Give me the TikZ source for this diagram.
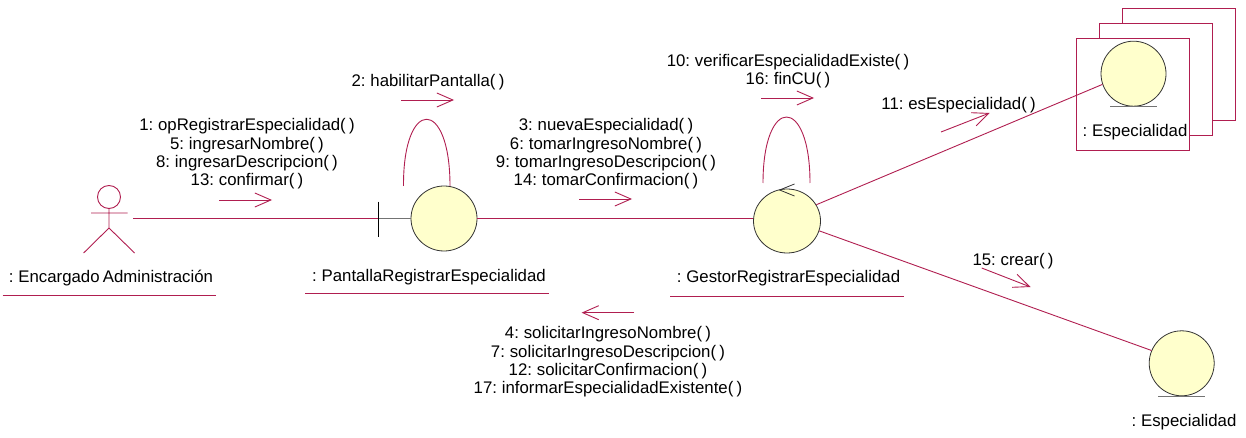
\documentclass[tikz,border=0pt]{standalone}
\usepackage{fontspec}
\setmainfont[WordSpace=0.7]{Liberation Sans}
\usetikzlibrary{arrows.meta,shapes.geometric}
\definecolor{umlrose}{RGB}{176,30,80}
\definecolor{umlfill}{RGB}{255,255,204}
\tikzset{
  link/.style={draw=umlrose,line width=0.9pt},
  msg/.style={draw=umlrose,line width=0.9pt,-{Straight Barb[length=16pt,width=14pt,line width=0.9pt]}},
  obj/.style={ellipse,draw=black!80,line width=0.8pt,fill=umlfill,inner sep=0pt,minimum width=65pt,minimum height=65pt},
  txt/.style={inner sep=0pt,align=center,text=black,font=\fontsize{16.8}{18.3}\selectfont},
  base/.style={draw=black!55,line width=1pt}
}
\newcommand{\msgArrow}[3]
{   \coordinate (#1a) at #2; \coordinate (#1b) at #3;
    \draw[msg] (#1a) -- (#1b);
}
\begin{document}
\begin{tikzpicture}[x=1pt,y=-1pt]
 \useasboundingbox (0,0) rectangle (1246,438);

 % stacked object boxes
 \foreach \bname/\bx/\by in {back/1179.3/64,mid/1156/79.7,front/1133/94.3}
   \node[rectangle,draw=umlrose,line width=0.9pt,fill=white,minimum width=113pt,minimum height=112pt,inner sep=0pt] (\bname) at (\bx,\by) {};

 % objects
 \node[obj,minimum width=66pt] (pantalla) at (444,218.5) {};
 \node[obj,minimum width=67pt,minimum height=64pt] (gestor) at (787,221) {};
 \node[obj] (espA) at (1133.5,73.7) {};
 \node[obj] (espB) at (1181.7,363.3) {};

 % actor
 \node[circle,draw=umlrose,line width=0.9pt,minimum size=23pt,inner sep=0pt] (head) at (109,197) {};
 \coordinate (armL) at (91,213); \coordinate (armR) at (127.5,213);
 \coordinate (hip) at (109,228);
 \coordinate (legL) at (83.6,253); \coordinate (legR) at (134.6,253);
 \draw[link] (head) -- (hip) (armL) -- (armR) (legL) -- (hip) -- (legR);

 % connectors
 \coordinate (hand) at (133,218.5);
 \coordinate (barT) at (378.6,201.7);
 \coordinate (barM) at (378.6,218.5);
 \coordinate (barB) at (378.6,236.7);
 \draw[link] (hand) -- (barM);
 \draw[base] (barM) -- (pantalla.west);
 \draw[black,line width=0.8pt] (barT) -- (barB);
 \draw[link] (pantalla.east) -- (pantalla.east -| gestor.west);
 \draw[link] (gestor.29) -- (espA.199);
 \draw[link] (gestor.-17) -- (espB.157);

 % self loops
 \coordinate (loopPa) at (403.5,186); \coordinate (loopPb) at (450,186);
 \coordinate (loopGa) at (763,183); \coordinate (loopGb) at (810,183);
 \draw[link] (loopPa) .. controls (403,97) and (450,97) .. (loopPb);
 \draw[link] (loopGa) .. controls (763,95) and (810,95) .. (loopGb);
 \draw[black!80,line width=0.8pt] (794.5,184) -- (779.6,190) -- (794.5,196);

 % base lines under the entities
 \draw[base] (espA.south west |- espA.south) -- (espA.south east |- espA.south);
 \draw[base] (espB.south west |- espB.south) -- (espB.south east |- espB.south);

 % messages
 \msgArrow{mOne}{(219,200)}{(272,200)}
 \msgArrow{mTwo}{(401,100)}{(454,100)}
 \msgArrow{mThree}{(579,199)}{(632,199)}
 \msgArrow{mFour}{(634,312.7)}{(581.6,312.7)}
 \msgArrow{mTen}{(761,98)}{(814,98)}
 \msgArrow{mEleven}{(941,132)}{(989.6,113)}
 \msgArrow{mFifteen}{(981.7,268)}{(1030.5,287)}

 % labels
 \node[txt] (lblOne) at (247,154) {1: opRegistrarEspecialidad( )\\5: ingresarNombre( )\\8: ingresarDescripcion( )\\13: confirmar( )};
 \node[txt] (lblTwo) at (428,82) {2: habilitarPantalla( )};
 \node[txt] (lblThree) at (606,154) {3: nuevaEspecialidad( )\\6: tomarIngresoNombre( )\\9: tomarIngresoDescripcion( )\\14: tomarConfirmacion( )};
 \node[txt] (lblFour) at (608,362) {4: solicitarIngresoNombre( )\\7: solicitarIngresoDescripcion( )\\12: solicitarConfirmacion( )\\17: informarEspecialidadExistente( )};
 \node[txt] (lblTen) at (788,71) {10: verificarEspecialidadExiste( )\\16: finCU( )};
 \node[txt] (lblEleven) at (958.6,105) {11: esEspecialidad( )};
 \node[txt] (lblFifteen) at (1013,261) {15: crear( )};

 \node[txt] (nameActor) at (111,278) {: Encargado Administración};
 \node[txt] (namePantalla) at (429,277) {: PantallaRegistrarEspecialidad};
 \node[txt] (nameGestor) at (788.5,278.5) {: GestorRegistrarEspecialidad};
 \node[txt] (nameEspA) at (1135,132) {: Especialidad};
 \node[txt] (nameEspB) at (1184,422) {: Especialidad};

 % underlines
 \draw[link] (2.5,295) -- (216,295);
 \draw[link] (305,293.6) -- (549,293.6);
 \draw[link] (670,296) -- (904,296);
\end{tikzpicture}
\end{document}
